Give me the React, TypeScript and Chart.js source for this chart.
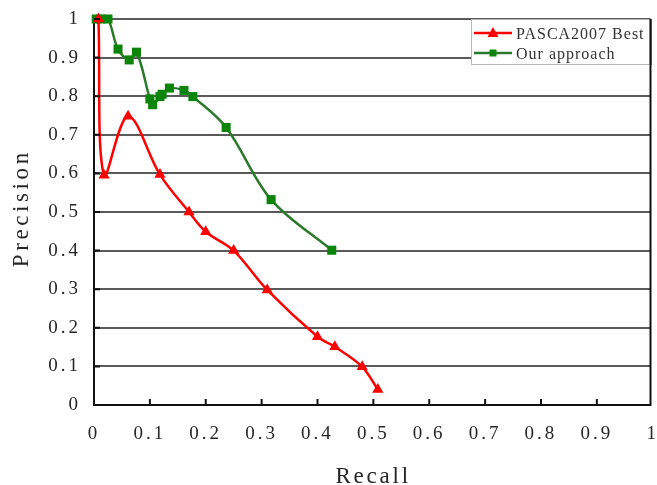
import { useEffect, useRef } from 'react';
import { Chart, registerables } from 'chart.js';

Chart.register(...registerables);

// Recall / precision points of the two detectors
const pascaRecall = [0.008, 0.018, 0.061, 0.118, 0.17, 0.2, 0.25, 0.31, 0.4, 0.431, 0.48, 0.508];
const pascaPrecision = [1, 0.595, 0.748, 0.597, 0.5, 0.449, 0.4, 0.298, 0.177, 0.151, 0.099, 0.04];

const oursRecall = [0.004, 0.012, 0.025, 0.043, 0.063, 0.076, 0.1, 0.105, 0.118, 0.122, 0.135, 0.161, 0.177, 0.2365, 0.317, 0.4255];
const oursPrecision = [1, 1, 1, 0.922, 0.894, 0.914, 0.793, 0.778, 0.799, 0.805, 0.821, 0.815, 0.799, 0.719, 0.532, 0.401];

const seriesNames = ['PASCA2007 Best', 'Our approach'];
const axisTitles = { x: 'Recall', y: 'Precision' };
const recallTicks = [0, 0.1, 0.2, 0.3, 0.4, 0.5, 0.6, 0.7, 0.8, 0.9, 1];
const precisionTicks = [0, 0.1, 0.2, 0.3, 0.4, 0.5, 0.6, 0.7, 0.8, 0.9, 1];

const RED = '#ff0000';
const GREEN_LINE = '#2b7a2b';
const GREEN_MARK = '#0a850a';
const TEXT = '#262626';
const FONT = "'Liberation Serif', serif";
const TICK_SPACING = 3;

const fmt = (v: number) => {
  const r = Math.round(v * 10) / 10;
  return r === 0 || r === 1 ? String(r) : r.toFixed(1);
};

const toPoints = (xs: number[], ys: number[]) => xs.map((x, i) => ({ x, y: ys[i] }));

const spacedText = (
  ctx: any,
  text: string,
  x: number,
  y: number,
  spacing: number,
  align: 'left' | 'center',
) => {
  ctx.letterSpacing = `${spacing}px`;
  ctx.textAlign = 'left';
  const w = ctx.measureText(text).width - spacing;
  const sx = align === 'center' ? x - w / 2 : x;
  ctx.fillText(text, sx, y);
};

// Right frame edge, inward tick marks, axis titles and the boxed legend
const framePlugin = {
  id: 'frameAndLegend',
  beforeDraw(chart: any) {
    // wide glyph spacing for the tick labels drawn by the scales
    chart.ctx.letterSpacing = `${TICK_SPACING}px`;
  },
  afterDraw(chart: any) {
    const { ctx, chartArea, scales } = chart;
    const { left, right, top, bottom } = chartArea;
    const xs = scales.x;
    const ys = scales.y;
    ctx.save();
    ctx.strokeStyle = '#111';
    ctx.lineWidth = 2;
    ctx.beginPath();
    ctx.moveTo(right, top);
    ctx.lineTo(right, bottom + 1);
    ctx.stroke();

    ctx.beginPath();
    recallTicks.forEach((v) => {
      if (v <= 0 || v >= 1) return;
      const px = xs.getPixelForValue(v);
      ctx.moveTo(px, bottom);
      ctx.lineTo(px, bottom - 6);
    });
    precisionTicks.forEach((v) => {
      if (v <= 0) return;
      const py = ys.getPixelForValue(v);
      ctx.moveTo(left, py);
      ctx.lineTo(left + 6, py);
    });
    ctx.stroke();

    // axis titles
    ctx.fillStyle = TEXT;
    ctx.font = `23px ${FONT}`;
    ctx.textBaseline = 'alphabetic';
    spacedText(ctx, axisTitles.x, (left + right) / 2 - 0.5, 483, 2.8, 'center');
    ctx.save();
    ctx.translate(28, (top + bottom) / 2 - 2);
    ctx.rotate(-Math.PI / 2);
    spacedText(ctx, axisTitles.y, 0, 0, 3.6, 'center');
    ctx.restore();

    // legend box
    const bx0 = 471;
    const by0 = top;
    const bx1 = right;
    const by1 = 65;
    ctx.fillStyle = '#fff';
    ctx.fillRect(bx0, by0, bx1 - bx0, by1 - by0);
    ctx.strokeStyle = '#b8b8b8';
    ctx.lineWidth = 1;
    ctx.strokeRect(bx0 + 0.5, by0 + 0.5, bx1 - bx0 - 1, by1 - by0 - 1);
    ctx.strokeStyle = '#111';
    ctx.lineWidth = 2;
    ctx.beginPath();
    ctx.moveTo(bx1, by0);
    ctx.lineTo(bx1, by1);
    ctx.stroke();

    const rows = [
      { y: 33, color: RED, mark: RED, shape: 'tri' },
      { y: 53, color: GREEN_LINE, mark: GREEN_MARK, shape: 'sq' },
    ];
    rows.forEach((r, i) => {
      ctx.strokeStyle = r.color;
      ctx.lineWidth = 2.5;
      ctx.beginPath();
      ctx.moveTo(474, r.y);
      ctx.lineTo(512, r.y);
      ctx.stroke();
      ctx.fillStyle = r.mark;
      ctx.beginPath();
      if (r.shape === 'tri') {
        ctx.moveTo(493, r.y - 6);
        ctx.lineTo(498.5, r.y + 4);
        ctx.lineTo(487.5, r.y + 4);
        ctx.closePath();
      } else {
        ctx.rect(489.5, r.y - 3.5, 7, 7);
      }
      ctx.fill();
      ctx.fillStyle = '#333';
      ctx.font = `16px ${FONT}`;
      ctx.textBaseline = 'alphabetic';
      spacedText(ctx, seriesNames[i], 516, r.y + 6, 1, 'left');
    });
    ctx.restore();
    ctx.letterSpacing = '0px';
  },
};

export default function App() {
  const canvasRef = useRef<HTMLCanvasElement | null>(null);

  useEffect(() => {
    document.body.style.margin = '0';
    const canvas = canvasRef.current;
    if (!canvas) return;
    const chart = new Chart(canvas, {
      type: 'scatter',
      data: {
        datasets: [
          {
            label: seriesNames[0],
            data: toPoints(pascaRecall, pascaPrecision),
            showLine: true,
            borderColor: RED,
            backgroundColor: RED,
            borderWidth: 2.5,
            tension: 0.35,
            pointStyle: 'triangle',
            pointRadius: 6.5,
            pointBorderWidth: 0,
            clip: false,
          },
          {
            label: seriesNames[1],
            data: toPoints(oursRecall, oursPrecision),
            showLine: true,
            borderColor: GREEN_LINE,
            backgroundColor: GREEN_MARK,
            borderWidth: 2.5,
            tension: 0.35,
            pointStyle: 'rect',
            pointRadius: 6.4,
            pointBorderWidth: 0,
            clip: false,
          },
        ],
      },
      options: {
        animation: false,
        responsive: false,
        devicePixelRatio: 1,
        layout: { padding: { top: 19, right: 4, left: 0, bottom: 0 } },
        plugins: { legend: { display: false }, tooltip: { enabled: false } },
        scales: {
          x: {
            type: 'linear',
            min: 0,
            max: 0.996,
            afterBuildTicks: (s: any) => {
              s.ticks = recallTicks.map((v) => ({ value: v }));
            },
            afterFit: (s: any) => {
              s.height = 80;
              s.paddingLeft = 0;
              s.paddingRight = 0;
            },
            grid: { display: false, drawTicks: false },
            border: { display: true, color: '#111', width: 2 },
            ticks: {
              autoSkip: false,
              maxRotation: 0,
              padding: 18,
              color: TEXT,
              font: { family: FONT, size: 19 },
              callback: (v: any) => fmt(Number(v)),
            },
          },
          y: {
            type: 'linear',
            min: 0,
            max: 1,
            afterBuildTicks: (s: any) => {
              s.ticks = precisionTicks.map((v) => ({ value: v }));
            },
            afterFit: (s: any) => {
              s.width = 94;
              s.paddingTop = 0;
              s.paddingBottom = 0;
            },
            grid: { color: '#5a5a5a', lineWidth: 2, drawTicks: false },
            border: { display: true, color: '#111', width: 2 },
            ticks: {
              padding: 13,
              color: TEXT,
              font: { family: FONT, size: 19 },
              callback: (v: any) => fmt(Number(v)),
            },
          },
        },
      },
      plugins: [framePlugin],
    } as any);
    return () => chart.destroy();
  }, []);

  return (
    <div style={{ width: 657, height: 485 }}>
      <canvas ref={canvasRef} width={657} height={485} style={{ display: 'block' }} />
    </div>
  );
}
